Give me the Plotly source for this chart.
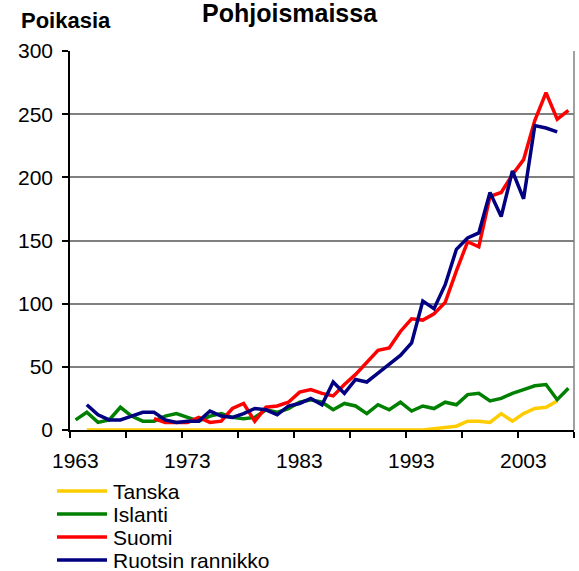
import plotly.graph_objects as go

years = list(range(1963, 2008))

tanska = [None] + [0] * 31 + [1, 2, 3, 7, 7, 6, 13, 7, 13, 17, 18, 23, None]
islanti = [8, 14, 6, 8, 18, 11, 7, 7, 11, 13, 10, 7, 11, 13, 10, 9, 10, 16, 14, 17,
           22, 24, 22, 16, 21, 19, 13, 20, 16, 22, 15, 19, 17, 22, 20, 28, 29, 23, 25,
           29, 32, 35, 36, 24, 33]
suomi = [None] * 7 + [9, 6, 6, 6, 10, 6, 7, 17, 21, 7, 18, 19, 22, 30, 32, 29, 27, 36,
                      44, 54, 63, 65, 78, 88, 87, 92, 101, 126, 149, 145, 185, 188, 202,
                      214, 245, 267, 246, 253]
ruotsi = [None, 20, 12, 8, 8, 11, 14, 14, 8, 6, 7, 7, 15, 11, 10, 13, 17, 16, 12, 19,
          21, 25, 20, 38, 29, 40, 38, 45, 52, 59, 69, 102, 96, 115, 143, 152, 156, 188,
          169, 205, 183, 241, 239, 236, None]

series_names = ["Tanska", "Islanti", "Suomi", "Ruotsin rannikko"]
series_values = [tanska, islanti, suomi, ruotsi]
colors = ["#FFCC00", "#008000", "#FF0000", "#000080"]

x_labels = [1963, 1973, 1983, 1993, 2003]
x_tick_marks = [1962.5 + 5 * k for k in range(10)]
y_ticks = [0, 50, 100, 150, 200, 250, 300]

FONT = "Arial, Liberation Sans, sans-serif"
XR = [1962.5, 2007.5]

fig = go.Figure()
for name, vals, col in zip(series_names, series_values, colors):
    fig.add_trace(go.Scatter(x=years, y=vals, mode="lines", name=name,
                             line=dict(color=col, width=3.5), connectgaps=False,
                             showlegend=False, hoverinfo="x+y+name"))

W, H = 579, 571
ml, mr, mt, mb = 70, 5, 51, 141
pw = W - ml - mr
ph = H - mt - mb

fig.update_layout(
    width=W, height=H,
    margin=dict(l=ml, r=mr, t=mt, b=mb, pad=0),
    paper_bgcolor="white", plot_bgcolor="white",
    font=dict(family=FONT, size=21, color="black"),
    showlegend=False,
    xaxis=dict(
        range=XR, tickmode="array", tickvals=x_tick_marks, ticktext=[""] * len(x_tick_marks),
        ticks="outside", ticklen=6, tickwidth=1.5, tickcolor="black",
        showgrid=False, zeroline=False,
        showline=True, linecolor="black", linewidth=1.5,
    ),
    yaxis=dict(
        range=[0, 300], tickmode="array", tickvals=y_ticks,
        ticks="outside", ticklen=6, tickwidth=1.5, tickcolor="black",
        showgrid=True, gridcolor="#808080", gridwidth=1.5,
        zeroline=False, showline=True, linecolor="black", linewidth=1.5,
        ticklabelstandoff=5,
        tickfont=dict(family=FONT, size=21, color="black"),
    ),
)

# year labels under the category axis, placed on the x scale
for yr in x_labels:
    fig.add_annotation(text=str(yr), xref="x", x=yr, yref="paper", y=(430 - 460) / ph,
                       xanchor="center", yanchor="middle", showarrow=False,
                       font=dict(family=FONT, size=21, color="black"))

# gray right border of plot area
fig.add_shape(type="line", xref="paper", yref="paper", x0=1, x1=1, y0=0, y1=1,
              line=dict(color="#808080", width=1.5))

# titles
fig.add_annotation(text="<b>Pohjoismaissa</b>", xref="paper", yref="paper",
                   x=(290 - ml) / pw, y=1 + (mt - 13) / ph, xanchor="center", yanchor="middle",
                   showarrow=False, font=dict(family=FONT, size=25, color="black"))
fig.add_annotation(text="<b>Poikasia</b>", xref="paper", yref="paper",
                   x=(19 - ml) / pw, y=1 + (mt - 20) / ph, xanchor="left", yanchor="middle",
                   showarrow=False, font=dict(family=FONT, size=22, color="black"))

# legend drawn below the plot
leg_y = [491, 514, 537, 560]
for name, col, py in zip(series_names, colors, leg_y):
    yp = (H - mb - py) / ph
    fig.add_shape(type="line", xref="paper", yref="paper",
                  x0=(57 - ml) / pw, x1=(107 - ml) / pw, y0=yp, y1=yp,
                  line=dict(color=col, width=3.5))
    fig.add_annotation(text=name, xref="paper", yref="paper",
                       x=(111 - ml) / pw, y=yp, xanchor="left", yanchor="middle",
                       showarrow=False, font=dict(family=FONT, size=21, color="black"))

fig.write_html("out.html", config={"displayModeBar": False},
               post_script="document.body.style.margin='0px';")
